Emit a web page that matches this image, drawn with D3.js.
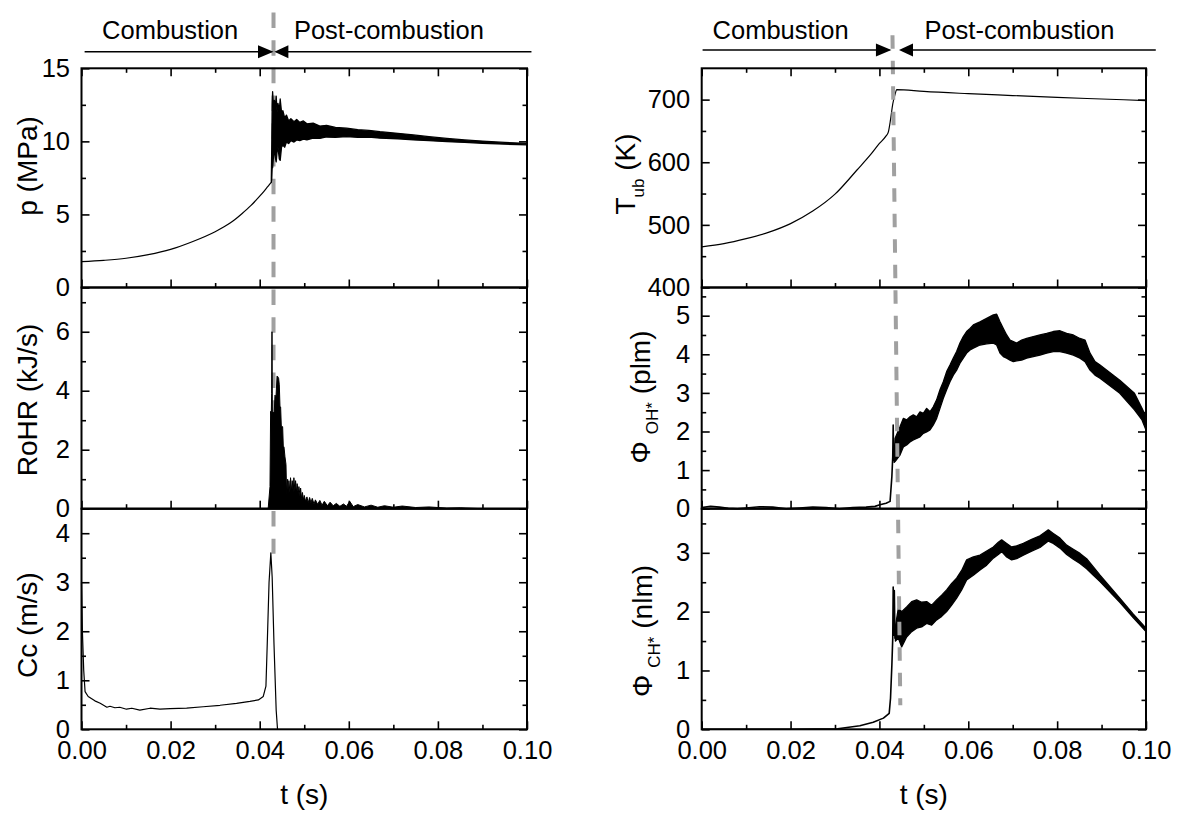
<!DOCTYPE html>
<html><head><meta charset="utf-8">
<script src="https://cdn.jsdelivr.net/npm/d3@7"></script>
<style>
body{margin:0;background:#fff;}
svg{display:block;}
</style></head><body>
<script>
// ---------------- DATA ----------------
const tMajor = [0, 0.02, 0.04, 0.06, 0.08, 0.10];
const tMinor = [0.01, 0.03, 0.05, 0.07, 0.09];
const phaseLabels = ["Combustion", "Post-combustion"];

// pressure p (MPa)
const pCombT = [0,0.005,0.01,0.015,0.02,0.025,0.03,0.032,0.034,0.036,0.038,0.04,0.041,0.0418,0.0422,0.0426];
const pCombV = [1.77,1.86,2.0,2.25,2.61,3.15,3.82,4.15,4.55,5.05,5.6,6.25,6.6,6.9,7.05,7.2];
const pPostT  = [0.0426,0.0427,0.0428,0.0429,0.0431,0.0433,0.0435,0.0437,0.0439,0.0441,0.0444,0.0446,0.0449,0.0452,0.0456,0.046,0.0465,0.047,0.0477,0.0483,0.049,0.0498,0.0506,0.052,0.0535,0.055,0.057,0.0595,0.062,0.0645,0.067,0.071,0.0745,0.078,0.082,0.086,0.09,0.095,0.1];
const pPostHi = [7.2,9.5,12.5,13.4,12.3,12.8,12.2,13.1,12.0,12.6,12.1,12.9,12.0,12.1,11.6,11.8,11.4,11.55,11.35,11.5,11.3,11.4,11.2,11.25,11.05,11.1,10.95,10.9,10.8,10.75,10.66,10.55,10.44,10.32,10.2,10.1,10.02,9.93,9.86];
const pPostLo = [7.2,7.4,8.2,8.2,9.0,9.4,8.9,8.6,9.3,9.6,8.8,8.7,9.6,9.75,9.6,9.95,9.85,10.05,9.95,10.1,10.05,10.15,10.1,10.22,10.2,10.3,10.28,10.32,10.28,10.3,10.22,10.18,10.1,10.05,9.98,9.93,9.87,9.81,9.76];

// rate of heat release RoHR (kJ/s)
const rohrT = [0,0.0419,0.04231,0.04245,0.0426,0.04268,0.04276,0.04284,0.04306,0.04328,0.04343,0.04366,0.0439,0.04403,0.04425,0.0444,0.04455,0.0447,0.04485,0.04515,0.0453,0.04545,0.04567,0.0459,0.04605,0.04627,0.04642,0.04655,0.04679,0.04692,0.04717,0.0473,0.04754,0.04767,0.04791,0.04805,0.04829,0.0484,0.04866,0.0488,0.04904,0.04918,0.0494,0.0496,0.04979,0.05,0.0503,0.0506,0.0509,0.0512,0.0515,0.0518,0.0522,0.0525,0.053,0.0535,0.054,0.0545,0.0552,0.0558,0.0565,0.0572,0.058,0.0588,0.0595,0.0602,0.061,0.062,0.0635,0.065,0.0665,0.068,0.07,0.072,0.075,0.078,0.082,0.085,0.09,0.1];
const rohrV = [0,0,0.75,3.3,3.2,3.9,6.0,3.3,3.25,3.3,3.85,3.8,4.5,4.48,4.42,4.2,3.47,3.45,2.8,2.78,2.1,2.1,1.76,1.5,0.45,1.0,0.5,0.95,0.55,1.05,0.6,0.95,0.55,1.05,0.6,0.95,0.55,0.85,0.5,0.75,0.45,0.7,0.35,0.55,0.3,0.45,0.25,0.4,0.2,0.38,0.2,0.35,0.15,0.3,0.15,0.28,0.12,0.25,0.1,0.22,0.1,0.18,0.08,0.16,0.08,0.25,0.07,0.14,0.06,0.12,0.05,0.1,0.05,0.09,0.04,0.06,0.02,0.03,0,0];

// Cc (m/s)
const ccT = [0,0.0002,0.0005,0.0008,0.0015,0.003,0.0042,0.0057,0.0064,0.0075,0.0086,0.0101,0.0113,0.0131,0.0154,0.0176,0.0199,0.0236,0.0273,0.0311,0.0348,0.0378,0.0397,0.0408,0.0414,0.0417,0.0421,0.0425,0.0428,0.0432,0.0437,0.044];
const ccV = [3.0,2.0,1.2,0.77,0.67,0.58,0.53,0.45,0.47,0.44,0.45,0.41,0.43,0.39,0.43,0.41,0.42,0.43,0.46,0.49,0.53,0.57,0.60,0.67,0.88,1.76,3.0,3.6,3.1,1.76,0.39,0];

// unburned temperature T_ub (K)
const tubT = [0,0.005,0.01,0.015,0.02,0.025,0.03,0.035,0.038,0.04,0.0415,0.042,0.0425,0.043,0.0435,0.0439,0.05,0.06,0.07,0.08,0.09,0.1];
const tubV = [465,470,478,488,502,522,549,588,612,630,642,648,668,693,708,716,713,709.5,706.5,703.5,701,698.5];

// OH* luminous flux (plm)
const ohPreT = [0,0.002,0.004,0.006,0.008,0.01,0.013,0.016,0.019,0.022,0.025,0.028,0.031,0.034,0.037,0.039,0.0401,0.0415,0.0424,0.0428,0.043,0.0431,0.0432,0.0433];
const ohPreV = [0.03,0.06,0.04,0.01,0.0,0.02,0.05,0.04,0.0,0.02,0.04,0.03,0.0,0.03,0.04,0.06,0.1,0.14,0.19,0.83,1.35,2.17,1.25,1.3];
const ohBandT  = [0.0433,0.04351,0.04463,0.04538,0.04613,0.04688,0.04763,0.04838,0.04913,0.04988,0.05063,0.05138,0.05213,0.05288,0.05363,0.05438,0.05513,0.05588,0.05663,0.05738,0.05813,0.05888,0.05963,0.06039,0.06114,0.06264,0.06414,0.06564,0.06639,0.06714,0.06789,0.06864,0.06939,0.07014,0.07089,0.07201,0.07314,0.07464,0.07614,0.07764,0.07914,0.08064,0.08214,0.08364,0.08514,0.08627,0.0874,0.08852,0.08965,0.0941,0.0974,0.0991,0.1];
const ohBandHi = [1.35,1.82,2.12,2.34,2.3,2.38,2.43,2.38,2.51,2.47,2.6,2.51,2.64,2.82,3.08,3.29,3.55,3.72,3.9,4.07,4.29,4.46,4.59,4.67,4.76,4.84,4.93,5.02,5.04,4.84,4.67,4.5,4.37,4.33,4.29,4.37,4.41,4.46,4.5,4.54,4.59,4.61,4.54,4.5,4.41,4.37,4.03,3.81,3.72,3.33,2.99,2.6,2.38];
const ohBandLo = [1.2,1.22,1.39,1.6,1.65,1.73,1.78,1.82,1.86,1.95,1.99,2.04,2.17,2.34,2.6,2.86,3.08,3.29,3.46,3.59,3.77,3.9,4.03,4.11,4.16,4.24,4.27,4.29,4.24,4.03,3.94,3.9,3.85,3.81,3.83,3.85,3.9,3.94,3.98,4.03,4.07,4.07,4.03,3.98,3.9,3.81,3.59,3.46,3.38,2.99,2.56,2.3,2.04];

// CH* luminous flux (nlm)
const chPreT = [0,0.01,0.02,0.0306,0.0356,0.0386,0.0409,0.0422,0.0425,0.0428,0.043,0.0431,0.0432,0.04335,0.0435,0.0436];
const chPreV = [0,0,0,0.01,0.06,0.12,0.19,0.27,0.53,1.09,1.55,2.42,1.6,2.36,1.55,1.6];
const chBandT  = [0.0436,0.04426,0.04501,0.04613,0.04726,0.04838,0.04951,0.05063,0.05176,0.05288,0.05401,0.05513,0.05626,0.05738,0.05851,0.05963,0.06114,0.06264,0.06414,0.06564,0.06676,0.06751,0.06864,0.06976,0.07089,0.07239,0.07427,0.07614,0.07802,0.07914,0.08064,0.08214,0.08364,0.08514,0.08664,0.08815,0.08965,0.0941,0.097,0.1];
const chBandHi = [1.75,2.06,2.0,2.08,2.17,2.2,2.16,2.17,2.11,2.2,2.28,2.37,2.48,2.57,2.7,2.88,2.93,2.96,3.03,3.1,3.18,3.22,3.16,3.1,3.12,3.16,3.23,3.29,3.39,3.33,3.25,3.13,3.06,2.99,2.9,2.76,2.62,2.23,1.97,1.72];
const chBandLo = [1.5,1.55,1.4,1.57,1.66,1.72,1.74,1.8,1.77,1.86,1.92,2.0,2.11,2.23,2.37,2.54,2.62,2.71,2.79,2.91,2.97,3.02,2.93,2.88,2.9,2.96,3.03,3.09,3.2,3.16,3.08,2.97,2.89,2.82,2.73,2.62,2.51,2.16,1.91,1.66];

// end of combustion markers (time, s)
const dashLeftT = [0.0431, 0.0431];
const dashRightT = [0.04294, 0.0447];

// ---------------- LAYOUT ----------------
const FONT = '"Liberation Sans", Arial, Helvetica, sans-serif';
const svg = d3.select('body').append('svg').attr('width',1179).attr('height',818)
  .style('font-family', FONT);

const rows = [[287.5, 68.3], [508.7, 287.5], [729.3, 508.7]];
const xL = d3.scaleLinear().domain([0,0.1]).range([81.5, 527]);
const xR = d3.scaleLinear().domain([0,0.1]).range([701.7, 1146]);

const yP   = d3.scaleLinear().domain([0,15]).range(rows[0]);
const yRo  = d3.scaleLinear().domain([0,7.5]).range(rows[1]);
const yCc  = d3.scaleLinear().domain([0,4.5]).range(rows[2]);
const yT   = d3.scaleLinear().domain([400,750]).range(rows[0]);
const yOH  = d3.scaleLinear().domain([0,5.73]).range(rows[1]);
const yCH  = d3.scaleLinear().domain([0,3.75]).range(rows[2]);

const zip = (a,b) => a.map((v,i)=>[v,b[i]]);
const zip3 = (a,b,c) => a.map((v,i)=>[v,b[i],c[i]]);

function line(xs, ys, T, V, w, smooth){
  svg.append('path').datum(zip(T,V))
    .attr('d', d3.line().x(d=>xs(d[0])).y(d=>ys(d[1])).curve(smooth ? d3.curveMonotoneX : d3.curveLinear))
    .attr('fill','none').attr('stroke','#000').attr('stroke-width', w||1.2)
    .attr('stroke-linejoin','round');
}
function band(xs, ys, T, H, L){
  svg.append('path').datum(zip3(T,H,L))
    .attr('d', d3.area().x(d=>xs(d[0])).y1(d=>ys(d[1])).y0(d=>ys(d[2])))
    .attr('fill','#000').attr('stroke','#000').attr('stroke-width',1.3).attr('stroke-linejoin','round');
}
function filledSpikes(xs, ys, T, V){
  svg.append('path').datum(zip(T,V))
    .attr('d', d3.area().x(d=>xs(d[0])).y0(ys(0)).y1(d=>ys(d[1])))
    .attr('fill','#000').attr('stroke','#000').attr('stroke-width',1).attr('stroke-linejoin','miter');
}

// left dashed marker (under data)
svg.append('line')
  .attr('x1', xL(dashLeftT[0])).attr('x2', xL(dashLeftT[1]))
  .attr('y1', yP(19.3)).attr('y2', yCc(3.58))
  .attr('stroke','#a0a0a0').attr('stroke-width',4)
  .attr('stroke-dasharray','15.5 12.2').attr('stroke-dashoffset', 20.7);

// data left
line(xL, yP, pCombT, pCombV, 1.2, true);
band(xL, yP, pPostT, pPostHi, pPostLo);
filledSpikes(xL, yRo, rohrT, rohrV);
line(xL, yCc, ccT, ccV, 1.2, false);

// data right
line(xR, yT, tubT, tubV, 1.2, true);
line(xR, yOH, ohPreT, ohPreV, 1.6, false);
band(xR, yOH, ohBandT, ohBandHi, ohBandLo);
line(xR, yCH, chPreT, chPreV, 1.6, false);
band(xR, yCH, chBandT, chBandHi, chBandLo);

// right dashed marker (over data)
svg.append('line')
  .attr('x1', xR(dashRightT[0])).attr('x2', xR(dashRightT[1]))
  .attr('y1', yT(802.8)).attr('y2', yCH(0.41))
  .attr('stroke','#a0a0a0').attr('stroke-width',4)
  .attr('stroke-dasharray','13.5 12').attr('stroke-dashoffset', 0);

// ---------------- AXES ----------------
function axes(xs, ys, yMajor, yMinor, xLabels, top){
  const [xl,xr] = xs.range(), [yb,yt] = ys.range();
  const g = svg.append('g');
  const fx = xLabels ? (d=>d.toFixed(2)) : (()=> '');
  g.append('g').attr('transform',`translate(0,${yb})`)
    .call(d3.axisBottom(xs).tickValues(tMajor).tickSizeInner(-8).tickSizeOuter(0).tickPadding(12).tickFormat(fx));
  g.append('g').attr('transform',`translate(0,${yb})`)
    .call(d3.axisBottom(xs).tickValues(tMinor).tickSizeInner(-4.5).tickSizeOuter(0).tickFormat(()=>''));
  if(top){
    g.append('g').attr('transform',`translate(0,${yt})`)
      .call(d3.axisTop(xs).tickValues(tMajor).tickSizeInner(-8).tickSizeOuter(0).tickFormat(()=>''));
    g.append('g').attr('transform',`translate(0,${yt})`)
      .call(d3.axisTop(xs).tickValues(tMinor).tickSizeInner(-4.5).tickSizeOuter(0).tickFormat(()=>''));
  }
  g.append('g').attr('transform',`translate(${xl},0)`)
    .call(d3.axisLeft(ys).tickValues(yMajor).tickSizeInner(-8).tickSizeOuter(0).tickPadding(11.5).tickFormat(d=>String(d)));
  g.append('g').attr('transform',`translate(${xl},0)`)
    .call(d3.axisLeft(ys).tickValues(yMinor).tickSizeInner(-4.5).tickSizeOuter(0).tickFormat(()=>''));
  g.append('g').attr('transform',`translate(${xr},0)`)
    .call(d3.axisRight(ys).tickValues(yMajor).tickSizeInner(-8).tickSizeOuter(0).tickFormat(()=>''));
  g.append('g').attr('transform',`translate(${xr},0)`)
    .call(d3.axisRight(ys).tickValues(yMinor).tickSizeInner(-4.5).tickSizeOuter(0).tickFormat(()=>''));
  g.selectAll('.domain').remove();
  g.selectAll('g').attr('font-family', FONT).attr('font-size', 25.5);
  g.selectAll('.tick line').attr('stroke','#000').attr('stroke-width',1.6);
  g.selectAll('.tick text').attr('fill','#000').attr('font-size',25.5);
  g.append('rect').attr('x',xl).attr('y',yt).attr('width',xr-xl).attr('height',yb-yt)
    .attr('fill','none').attr('stroke','#000').attr('stroke-width',2);
}

axes(xL, yP,  [0,5,10,15], [2.5,7.5,12.5], false, true);
axes(xL, yRo, [0,2,4,6], [1,3,5,7], false, false);
axes(xL, yCc, [0,1,2,3,4], [0.5,1.5,2.5,3.5], true, false);
axes(xR, yT,  [400,500,600,700], [450,550,650], false, true);
axes(xR, yOH, [0,1,2,3,4,5], [0.5,1.5,2.5,3.5,4.5,5.5], false, false);
axes(xR, yCH, [0,1,2,3], [0.5,1.5,2.5,3.5], true, false);

// ---------------- TITLES ----------------
function vTitle(x, cy, parts){
  const t = svg.append('text').attr('transform',`translate(${x},${cy}) rotate(-90)`)
    .attr('text-anchor','middle').attr('font-size',28).attr('fill','#000');
  parts.forEach(p=>{
    const s = t.append('tspan').text(p.t);
    if(p.sub){ s.attr('font-size',17).attr('dy',p.dy).attr('dx',p.dx||0); }
    else if(p.dy){ s.attr('dy',p.dy); }
  });
}
vTitle(37, 166, [{t:'p (MPa)'}]);
vTitle(37, 400, [{t:'RoHR (kJ/s)'}]);
vTitle(37, 625, [{t:'Cc (m/s)'}]);
vTitle(635, 174, [{t:'T'},{t:'ub',sub:true,dy:9},{t:' (K)',dy:-9}]);
vTitle(650, 397, [{t:'Φ'},{t:'OH*',sub:true,dy:7.5,dx:7},{t:' (plm)',dy:-7.5}]);
vTitle(652, 631, [{t:'Φ'},{t:'CH*',sub:true,dy:7.5,dx:7},{t:' (nlm)',dy:-7.5}]);

svg.append('text').attr('x', (xL.range()[0]+xL.range()[1])/2).attr('y',804)
  .attr('text-anchor','middle').attr('font-size',28).text('t (s)');
svg.append('text').attr('x', (xR.range()[0]+xR.range()[1])/2).attr('y',804)
  .attr('text-anchor','middle').attr('font-size',28).text('t (s)');

// ---------------- PHASE HEADERS ----------------
function header(xs, yLine, tStart, tTipL, tTipR, tEnd, tLab1, tLab2, yText){
  const g = svg.append('g');
  g.append('line').attr('x1',xs(tStart)).attr('x2',xs(tTipL)-2).attr('y1',yLine).attr('y2',yLine)
    .attr('stroke','#000').attr('stroke-width',1.6);
  g.append('line').attr('x1',xs(tTipR)+2).attr('x2',xs(tEnd)).attr('y1',yLine).attr('y2',yLine)
    .attr('stroke','#000').attr('stroke-width',1.6);
  const a = xs(tTipL), b = xs(tTipR);
  g.append('path').attr('d',`M${a},${yLine} L${a-15.5},${yLine-6.5} L${a-15.5},${yLine+6.5} Z`).attr('fill','#000');
  g.append('path').attr('d',`M${b},${yLine} L${b+14},${yLine-6.5} L${b+14},${yLine+6.5} Z`).attr('fill','#000');
  g.append('text').attr('x',xs(tLab1)).attr('y',yText).attr('text-anchor','middle').attr('font-size',25.5).text(phaseLabels[0]);
  g.append('text').attr('x',xs(tLab2)).attr('y',yText).attr('text-anchor','middle').attr('font-size',25.5).text(phaseLabels[1]);
}
header(xL, 51.7, 0.0007, 0.0431, 0.0433, 0.101, 0.0199, 0.069, 39.3);
header(xR, 50, 0.0002, 0.0427, 0.0444, 0.1022, 0.01776, 0.0715, 38.5);
</script>
</body></html>
